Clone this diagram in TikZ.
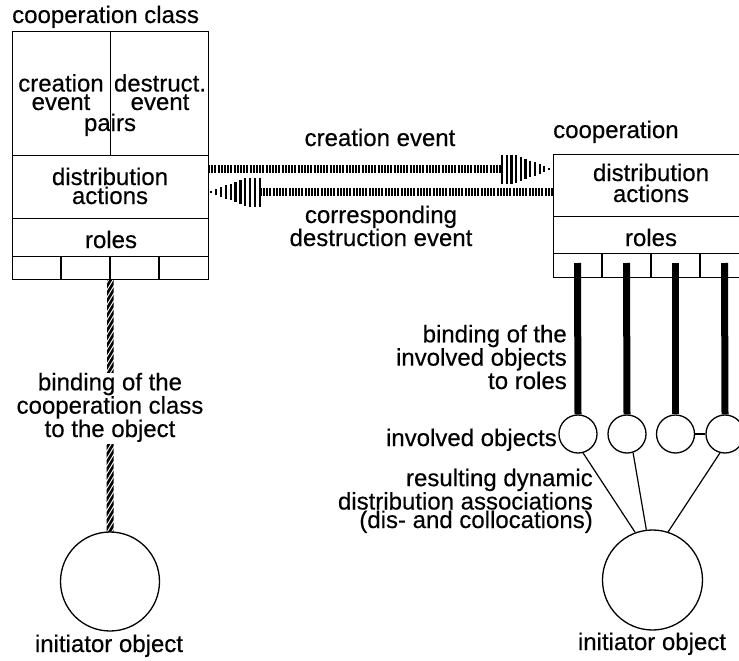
\documentclass[tikz,border=0pt]{standalone}
\usepackage{fontspec}
\setmainfont{Liberation Sans}[FakeBold=0.35]
\usetikzlibrary{calc}
\begin{document}
\begin{tikzpicture}[x=1pt,y=-1pt,
  frame/.style={draw, line width=1.2pt, rectangle, inner sep=0pt,
    minimum width=196pt, anchor=north west},
  rule/.style={line width=1.2pt},
  lbl/.style={inner sep=0pt, anchor=base, font=\fontsize{24}{20}\selectfont},
  obj/.style={draw, circle, line width=1.3pt, inner sep=0pt},
  shaft/.style={line width=7.5pt, dash pattern=on 2pt off 1.2pt},
  headbar/.style={line width=2.2pt},
  bindbar/.style={line width=7pt},
  stripe/.style={line width=2.6pt},
  assoc/.style={line width=1.2pt}
]
\useasboundingbox (0,0) rectangle (739,661);
\clip (0,0) rectangle (739,661);

% ---------- cooperation class ----------
% (multi-line labels are placed by the baseline of their last line)
\node[lbl, anchor=base west] (lcls) at (12,23) {cooperation class};
\node[frame, minimum height=124pt] (lev) at (12,31) {};
\draw[rule] (lev.north) -- (lev.south);
\node[frame, minimum height=63pt] (ldist) at (12,155) {};
\node[frame, minimum height=38pt] (lroles) at (12,218) {};
\node[frame, minimum height=23pt] (lcells) at (12,256) {};
\foreach \k in {1,2,3}
  \draw[rule] ($(lcells.north west)+(49*\k,0)$) -- ($(lcells.south west)+(49*\k,0)$);

\node[lbl, align=center, font=\fontsize{24}{18.5}\selectfont] (lcre) at (61,110) {creation\\event};
\node[lbl, align=center, font=\fontsize{24}{18.5}\selectfont] (ldes) at (160,110) {destruct.\\event};
\node[lbl] (lpairs) at (110,131) {pairs};
\node[lbl, align=center, font=\fontsize{24}{19}\selectfont] (ldtxt) at (110,204) {distribution\\actions};
\node[lbl] (lrtxt) at (111,248) {roles};

% ---------- cooperation ----------
\node[lbl, anchor=base west] (rcls) at (553,138) {cooperation};
\node[frame, minimum height=62pt] (rdist) at (553,154) {};
\node[frame, minimum height=37pt] (rroles) at (553,216) {};
\node[frame, minimum height=24pt] (rcells) at (553,253) {};
\foreach \k in {1,2,3}
  \draw[rule] ($(rcells.north west)+(49*\k,0)$) -- ($(rcells.south west)+(49*\k,0)$);
\node[lbl, align=center, font=\fontsize{24}{21}\selectfont] (rdtxt) at (651,202) {distribution\\actions};
\node[lbl] (rrtxt) at (651,246) {roles};

% ---------- event arrows ----------
\coordinate (a1s) at (208,169);
\coordinate (a1h) at (502,169);
\draw[shaft] (a1s) -- (a1h);
\foreach \i in {0,...,10}{
  \pgfmathsetmacro\hh{min(14.5,14.5*(10.6-\i)/8)}
  \draw[headbar] ($(a1h)+(\i*4.7,-\hh)$) -- ($(a1h)+(\i*4.7,\hh)$);
}
\coordinate (a2s) at (553,192);
\coordinate (a2h) at (260,192);
\draw[shaft] (a2s) -- (a2h);
\foreach \i in {0,...,10}{
  \pgfmathsetmacro\hh{min(14.5,14.5*(10.6-\i)/8)}
  \draw[headbar] ($(a2h)+(-\i*4.9,-\hh)$) -- ($(a2h)+(-\i*4.9,\hh)$);
}
\node[lbl] (crev) at (380,146) {creation event};
\node[lbl, align=center, font=\fontsize{24}{23}\selectfont] (dsev) at (381,246) {corresponding\\destruction event};

% ---------- binding of the initiator ----------
\node[lbl, align=center, font=\fontsize{24}{20}\selectfont] (lbind) at (110,437)
  {binding of the\\cooperation class\\to the object};
\node[obj, minimum size=99pt] (linit) at (110,581.5) {};
% hatched binding line, in two pieces around its label
\begin{scope}
  \clip ($(lcells.south)+(-3.5,0)$) rectangle ($(lbind.north)+(3.5,0)$);
  \foreach \k in {-2,...,16}
    \draw[stripe] ($(lcells.south)+(-6,10+\k*7.4)$) -- ($(lcells.south)+(6,-10+\k*7.4)$);
\end{scope}
\begin{scope}
  \clip ($(lbind.south)+(-3.5,2)$) rectangle ($(linit.north)+(3.5,0)$);
  \foreach \k in {-2,...,15}
    \draw[stripe] ($(lbind.south)+(-6,10+\k*7.4)$) -- ($(lbind.south)+(6,-10+\k*7.4)$);
\end{scope}
\node[lbl] (linitl) at (109,652) {initiator object};

% ---------- involved objects ----------
\node[obj, minimum size=38pt] (o1) at (578,434) {};
\node[obj, minimum size=38pt] (o2) at (627,434) {};
\node[obj, minimum size=38pt] (o3) at (675.5,434) {};
\node[obj, minimum size=38pt] (o4) at (725,434) {};
\draw[assoc] (o3) -- (o4);
\coordinate (b1) at (577.5,263);
\coordinate (b2) at (626.5,263);
\coordinate (b3) at (675.5,263);
\coordinate (b4) at (724.5,263);
\draw[bindbar] (b1) -- (o1.north);
\draw[bindbar] (b2) -- (o2.north);
\draw[bindbar] (b3) -- (o3.north);
\draw[bindbar] (b4) -- (o4.north);

\node[obj, minimum size=100pt] (rinit) at (652.5,580) {};
\draw[assoc] (o1.-75) -- (rinit.110);
\draw[assoc] (o2.-72) -- (rinit.97);
\draw[assoc] (o4.-105) -- (rinit.72);

\node[lbl, anchor=base east, align=right, font=\fontsize{24}{21.5}\selectfont] (rbind) at (567,389)
  {binding of the\\involved objects\\to roles};
\node[lbl, anchor=base east] (invl) at (557,446) {involved objects};
\node[lbl, anchor=base east, align=right, font=\fontsize{24}{18.5}\selectfont] (rassoc) at (593,528)
  {resulting dynamic\\distribution associations\\(dis- and collocations)};
\node[lbl] (rinitl) at (652,650) {initiator object};
\end{tikzpicture}
\end{document}
